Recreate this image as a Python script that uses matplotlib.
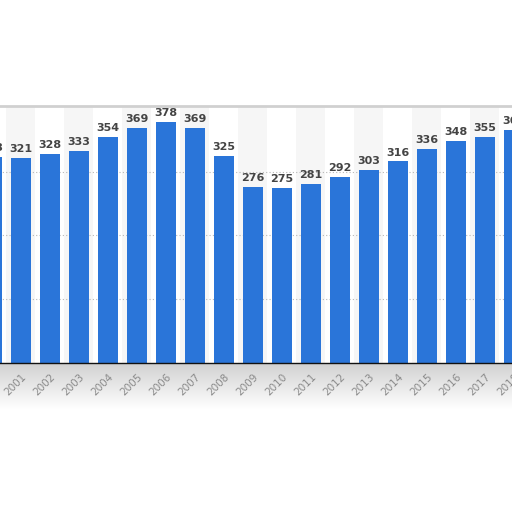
import matplotlib.pyplot as plt
import numpy as np

years = [str(y) for y in range(2000, 2019)]
values = [323, 321, 328, 333, 354, 369, 378, 369, 325, 276, 275, 281, 292, 303, 316, 336, 348, 355, 365]

fig = plt.figure(figsize=(5.12, 5.12), dpi=100)
fig.patch.set_facecolor('white')

# axes runs past both sides of the picture, like the cropped screenshot
ax = fig.add_axes([-0.044, 0.291, 1.076, 0.502])
x = np.arange(len(years))

# alternating column shading
for i in x:
    if i % 2 == 1:
        ax.axvspan(i - 0.5, i + 0.5, color='#f6f6f6', zorder=0, lw=0)

ax.bar(x, values, width=0.67, color='#2a75d9', zorder=2)
for xi, v in zip(x, values):
    ax.text(xi, v + 6, str(v), ha='center', va='bottom', fontsize=8,
            fontweight='bold', color='#444444', zorder=3)

ax.set_xlim(-0.5, len(years) - 0.5)
ax.set_ylim(0, 403)
ax.set_yticks([100, 200, 300])
ax.yaxis.grid(True, linestyle=(0, (1, 2)), color='#b8b8b8', lw=0.8, zorder=1)
ax.tick_params(axis='y', left=False, labelleft=False)
ax.set_xticks(x)
ax.set_xticklabels(years, rotation=45, ha='right', rotation_mode='anchor',
                   fontsize=7.5, color='#8a8a8a')
ax.tick_params(axis='x', length=0, pad=6)

for s in ['left', 'right']:
    ax.spines[s].set_visible(False)
ax.spines['top'].set_color('#d0d0d0')
ax.spines['top'].set_linewidth(2)
ax.spines['bottom'].set_color('#111111')
ax.spines['bottom'].set_linewidth(1)

# grey torn-paper shadow under the axis
band = fig.add_axes([0, 0.2, 1, 0.09], zorder=-1)
grad = np.linspace(0.82, 1.0, 50).reshape(-1, 1)
band.imshow(grad, cmap='gray', vmin=0, vmax=1, aspect='auto', extent=[0, 1, 0, 1], origin='upper')
band.axis('off')

fig.savefig('out.png', dpi=100)
